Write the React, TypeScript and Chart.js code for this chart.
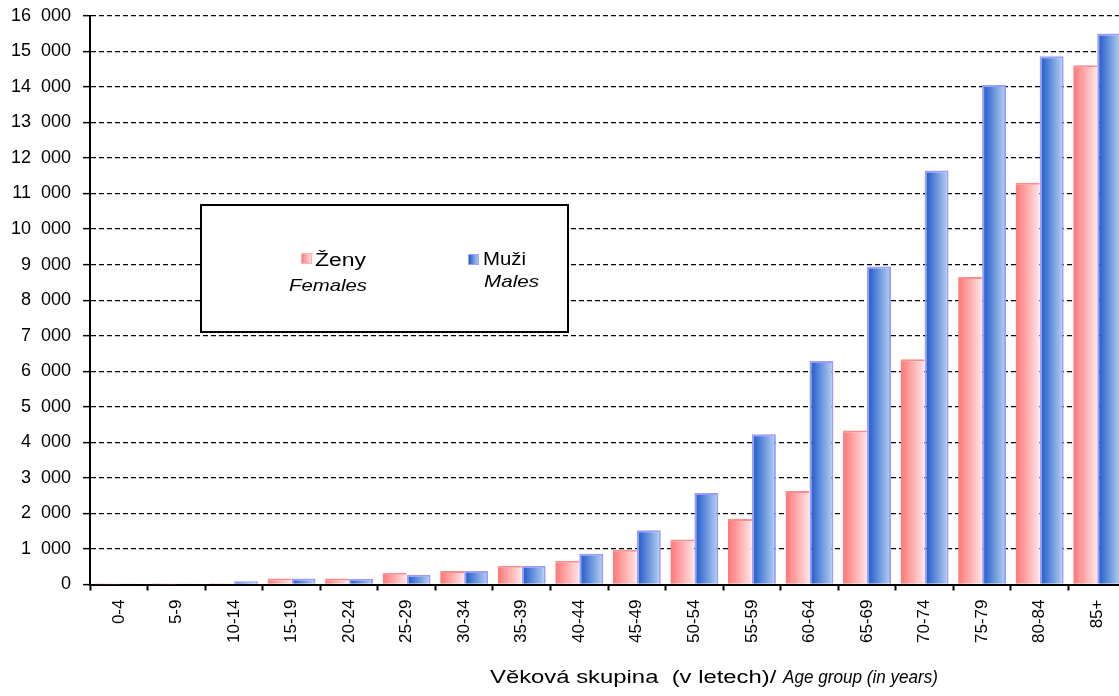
import React, { useEffect, useRef } from "react";
import { Chart, registerables } from "chart.js";

Chart.register(...registerables);

const categories = ["0-4", "5-9", "10-14", "15-19", "20-24", "25-29", "30-34", "35-39", "40-44", "45-49", "50-54", "55-59", "60-64", "65-69", "70-74", "75-79", "80-84", "85+"];
const females = [10, 10, 15, 170, 170, 330, 380, 530, 670, 980, 1270, 1840, 2630, 4330, 6340, 8650, 11300, 14610];
const males = [10, 10, 90, 170, 160, 275, 380, 530, 865, 1525, 2575, 4230, 6290, 8945, 11645, 14050, 14860, 15505];
const yMin = 0;
const yMax = 16000;
const yStep = 1000;
const femaleLegend = ["Ženy", "Females"];
const maleLegend = ["Muži", "Males"];
const axisTitleCz = "Věková skupina  (v letech)/ ";
const axisTitleEn = "Age group (in years)";

const FONT = "'Liberation Sans', Arial, sans-serif";
const CAT_PCT = 0.833;
const CANVAS_W = 1130;
const CANVAS_H = 703;
const SHIFT_X = 1;
const SHIFT_Y = 7;

function femaleGradient(c: CanvasRenderingContext2D, left: number, width: number) {
  const g = c.createLinearGradient(left, 0, left + width, 0);
  g.addColorStop(0, "#FF7A7A");
  g.addColorStop(0.1, "#FF8080");
  g.addColorStop(1, "#FFE6E6");
  return g;
}

function maleGradient(c: CanvasRenderingContext2D, left: number, width: number) {
  const g = c.createLinearGradient(left, 0, left + width, 0);
  g.addColorStop(0, "#3F74D8");
  g.addColorStop(0.12, "#2D64CE");
  g.addColorStop(1, "#B8D4F2");
  return g;
}

function barFill(ctx: any, female: boolean) {
  const chart = ctx.chart;
  const xs = chart.scales && chart.scales.x;
  if (!xs || ctx.type !== "data" || !chart.chartArea) return female ? "#FF9C9C" : "#5A88DC";
  const center = xs.getPixelForValue(ctx.dataIndex);
  const catW = xs.width / categories.length;
  const bw = (catW * CAT_PCT) / 2;
  const left = female ? center - bw : center;
  return female ? femaleGradient(chart.ctx, left, bw) : maleGradient(chart.ctx, left, bw);
}

function fitText(c: CanvasRenderingContext2D, text: string, font: string, x: number, y: number, target: number) {
  c.save();
  c.font = font;
  c.textAlign = "left";
  c.textBaseline = "alphabetic";
  c.fillStyle = "#000";
  const w = c.measureText(text).width;
  c.translate(x, y);
  c.scale(target / w, 1);
  c.fillText(text, 0, 0);
  c.restore();
}

function formatTick(v: number) {
  if (v >= 1000) {
    const th = Math.floor(v / 1000);
    const rest = String(v % 1000).padStart(3, "0");
    return `${th}  ${rest}`;
  }
  return String(v);
}

const overlayPlugin = {
  id: "overlay",
  afterDraw(chart: any) {
    const c: CanvasRenderingContext2D = chart.ctx;
    c.save();
    // page coordinates -> canvas coordinates
    c.translate(SHIFT_X, SHIFT_Y);
    // legend box
    c.fillStyle = "#FFFFFF";
    c.fillRect(201, 205, 367, 127);
    c.strokeStyle = "#000000";
    c.lineWidth = 2;
    c.strokeRect(201, 205, 367, 127);

    // female marker
    c.fillStyle = femaleGradient(c, 301, 11);
    c.fillRect(301, 253, 11, 11);
    c.strokeStyle = "#FFB0B0";
    c.lineWidth = 1;
    c.strokeRect(301.5, 253.5, 10, 10);
    // male marker
    c.fillStyle = maleGradient(c, 468, 11);
    c.fillRect(468, 254, 11, 11);
    c.strokeStyle = "#A0A0FF";
    c.lineWidth = 1;
    c.strokeRect(468.5, 254.5, 10, 10);

    fitText(c, femaleLegend[0], `18px ${FONT}`, 315, 266, 51);
    fitText(c, femaleLegend[1], `italic 17px ${FONT}`, 289, 291, 78);
    fitText(c, maleLegend[0], `18px ${FONT}`, 483, 265, 43);
    fitText(c, maleLegend[1], `italic 17px ${FONT}`, 484, 287, 55);

    // axis title
    fitText(c, axisTitleCz, `18px ${FONT}`, 490, 683, 293);
    fitText(c, axisTitleEn, `italic 18px ${FONT}`, 783, 683, 155);
    c.restore();
  },
};

export default function App() {
  const canvasRef = useRef<HTMLCanvasElement | null>(null);

  useEffect(() => {
    if (!canvasRef.current) return;
    const chart = new Chart(canvasRef.current, {
      type: "bar",
      data: {
        labels: categories,
        datasets: [
          {
            label: femaleLegend.join(" "),
            data: females,
            backgroundColor: (ctx: any) => barFill(ctx, true),
            borderColor: "#FF8C8C",
            borderWidth: { top: 2, left: 0, right: 0, bottom: 0 } as any,
            borderSkipped: "bottom",
            categoryPercentage: CAT_PCT,
            barPercentage: 1,
          },
          {
            label: maleLegend.join(" "),
            data: males,
            backgroundColor: (ctx: any) => barFill(ctx, false),
            borderColor: "#9C9CFF",
            borderWidth: 2,
            borderSkipped: "bottom",
            categoryPercentage: CAT_PCT,
            barPercentage: 1,
          },
        ],
      },
      options: {
        responsive: false,
        animation: false,
        devicePixelRatio: 1,
        layout: { padding: { left: 0, right: 3, top: 8, bottom: 44 } },
        plugins: {
          legend: { display: false },
          title: { display: false },
          tooltip: { enabled: false },
        },
        scales: {
          x: {
            grid: {
              display: true,
              drawOnChartArea: false,
              drawTicks: true,
              tickLength: 6,
              tickColor: "#000",
              tickWidth: 2,
              offset: true,
            },
            border: { display: true, color: "#000", width: 2 },
            ticks: {
              autoSkip: false,
              minRotation: 90,
              maxRotation: 90,
              padding: 9,
              color: "#000",
              font: { family: FONT, size: 17 },
            },
          },
          y: {
            min: yMin,
            max: yMax,
            grid: {
              color: "#000",
              lineWidth: 1.3,
              drawTicks: true,
              tickLength: 7,
              tickColor: "#000",
              tickWidth: 1.5,
            },
            border: { display: true, color: "#000", width: 2, dash: [5, 3] },
            ticks: {
              stepSize: yStep,
              padding: 12,
              color: "#000",
              font: { family: FONT, size: 18 },
              callback: (v: any) => formatTick(Number(v)),
            },
          },
        },
      },
      plugins: [overlayPlugin],
    });
    return () => chart.destroy();
  }, []);

  return (
    <div style={{ position: "fixed", left: 0, top: 0, width: 1119, height: 696, overflow: "hidden", background: "#fff" }}>
      <canvas
        ref={canvasRef}
        width={CANVAS_W}
        height={CANVAS_H}
        style={{ width: CANVAS_W, height: CANVAS_H, display: "block", marginLeft: -SHIFT_X, marginTop: -SHIFT_Y }}
      />
    </div>
  );
}
